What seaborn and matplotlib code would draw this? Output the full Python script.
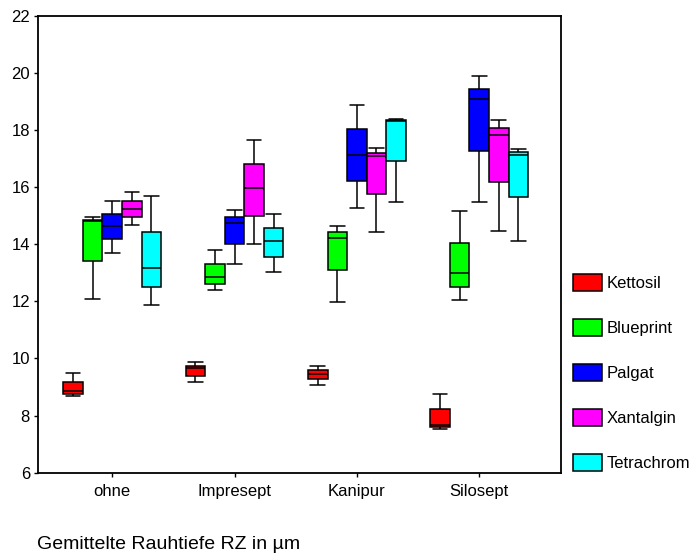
import matplotlib
matplotlib.use('Agg')
import matplotlib.pyplot as plt
from matplotlib.patches import Patch
import pandas as pd
import seaborn as sns


groups = ['ohne', 'Impresept', 'Kanipur', 'Silosept']
products = ['Kettosil', 'Blueprint', 'Palgat', 'Xantalgin', 'Tetrachrom']
colors = ['#ff0000', '#00ff00', '#0000ff', '#ff00ff', '#00ffff']

# five-number summaries (min, q1, median, q3, max) per group
kettosil = [[8.69, 8.74, 8.86, 9.19, 9.50],
            [9.18, 9.39, 9.65, 9.75, 9.86],
            [9.07, 9.28, 9.47, 9.60, 9.75],
            [7.53, 7.59, 7.67, 8.22, 8.74]]
blueprint = [[12.08, 13.41, 14.82, 14.85, 14.96],
             [12.40, 12.62, 12.84, 13.31, 13.80],
             [11.98, 13.10, 14.21, 14.42, 14.63],
             [12.03, 12.51, 12.99, 14.04, 15.16]]
palgat = [[13.68, 14.17, 14.63, 15.05, 15.52],
          [13.31, 14.00, 14.73, 14.94, 15.21],
          [15.27, 16.22, 17.11, 18.02, 18.86],
          [15.48, 17.27, 19.08, 19.44, 19.88]]
xantalgin = [[14.67, 14.94, 15.22, 15.52, 15.84],
             [14.00, 15.00, 15.96, 16.80, 17.65],
             [14.42, 15.75, 17.09, 17.20, 17.38],
             [14.47, 16.17, 17.81, 18.08, 18.34]]
tetrachrom = [[11.87, 12.51, 13.16, 14.42, 15.69],
              [13.03, 13.56, 14.10, 14.58, 15.06],
              [15.48, 16.90, 18.31, 18.34, 18.39],
              [14.10, 15.64, 17.12, 17.22, 17.33]]

caption = 'Gemittelte Rauhtiefe RZ in µm'


def build_frame() -> pd.DataFrame:
  rows = []
  for name, series in zip(products, [kettosil, blueprint, palgat, xantalgin, tetrachrom]):
    for grp, vals in zip(groups, series):
      for v in vals:
        rows.append({'group': grp, 'product': name, 'value': v})
  return pd.DataFrame(rows)


def main() -> None:
  sns.set_style('ticks')
  plt.rcParams['font.family'] = ['Liberation Sans', 'DejaVu Sans']
  plt.rcParams['text.color'] = 'black'

  df = build_frame()

  fig = plt.figure(figsize=(6.95, 5.54), dpi=100)
  ax = fig.add_axes([0.0551, 0.1468, 0.7519, 0.8249])

  sns.boxplot(data=df, x='group', y='value', hue='product',
              order=groups, hue_order=products, palette=colors, saturation=1,
              width=0.8, gap=0, whis=float('inf'), showfliers=False,
              linecolor='black', linewidth=1.1, capwidths=0.12,
              legend=False, ax=ax)

  ax.set_ylim(6, 22)
  ax.set_yticks(range(6, 23, 2))
  ax.set_xlim(-0.605, 3.668)
  ax.set_xlabel('')
  ax.set_ylabel('')
  ax.tick_params(axis='both', labelsize=12, colors='black', length=3, width=1, pad=3)
  ax.tick_params(axis='x', pad=5)
  for side in ['top', 'right', 'left', 'bottom']:
    ax.spines[side].set_visible(True)
    ax.spines[side].set_color('black')
    ax.spines[side].set_linewidth(1.3)

  handles = [Patch(facecolor=c, edgecolor='black', linewidth=1.1) for c in colors]
  fig.legend(handles, products, loc='upper left', bbox_to_anchor=(0.815, 0.517),
             frameon=False, fontsize=12, handlelength=1.74, handleheight=1.2,
             labelspacing=1.66, handletextpad=0.3, borderaxespad=0)

  fig.text(0.053, 0.009, caption, fontsize=14, ha='left', va='baseline', color='black')

  fig.savefig('out.png', dpi=100)


if __name__ == '__main__':
  main()
